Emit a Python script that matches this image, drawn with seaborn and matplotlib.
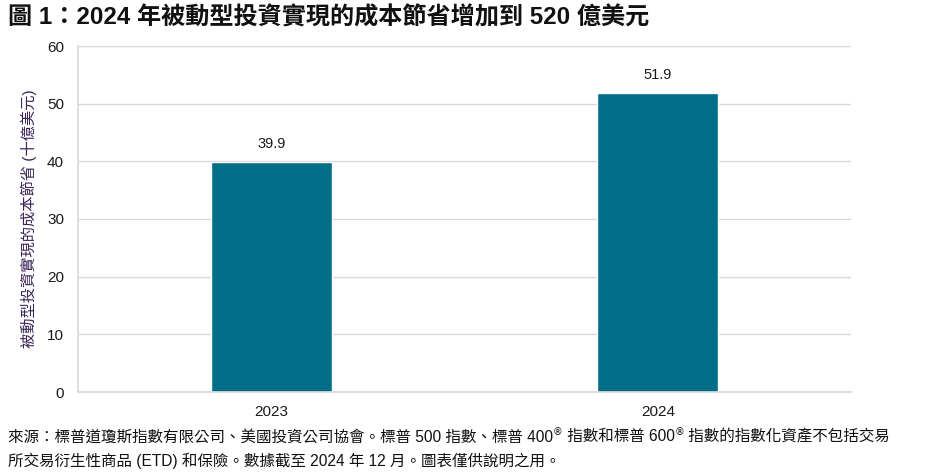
import matplotlib
matplotlib.use("Agg")
import matplotlib.pyplot as plt
import seaborn as sns
import pandas as pd

years = ["2023", "2024"]
savings = [39.9, 51.9]
value_labels = ["39.9", "51.9"]
yticks = [0, 10, 20, 30, 40, 50, 60]

title = "圖 1：2024 年被動型投資實現的成本節省增加到 520 億美元"
ylabel = "被動型投資實現的成本節省 (十億美元)"
foot1_parts = [("來源：標普道瓊斯指數有限公司、美國投資公司協會。標普 500 指數、標普 400", False),
               ("®", True),
               (" 指數和標普 600", False),
               ("®", True),
               (" 指數的指數化資產不包括交易", False)]
foot2 = "所交易衍生性商品 (ETD) 和保險。數據截至 2024 年 12 月。圖表僅供說明之用。"

sns.set_theme(style="white")
plt.rcParams['font.family'] = ['Liberation Sans', 'Noto Sans CJK TC', 'DejaVu Sans']

df = pd.DataFrame({"year": years, "value": savings})

fig = plt.figure(figsize=(9.25, 4.75), dpi=100)
ax = fig.add_axes([78/925, 1 - 392/475, (851-78)/925, (392-46)/475])

sns.barplot(data=df, x="year", y="value", color="#006E87", width=0.313,
            saturation=1, ax=ax)

for i, (v, lab) in enumerate(zip(savings, value_labels)):
    ax.annotate(lab, (i, v), xytext=(0, 8), textcoords="offset points",
                ha="center", va="bottom", fontsize=10.5, color="#1a1a1a")

ax.set_ylim(0, 60)
ax.set_xlim(-0.5, 1.5)
ax.set_yticks(yticks)
ax.yaxis.grid(True, color="#D9D9D9", linewidth=1)
ax.set_axisbelow(True)
for s in ["top", "right"]:
    ax.spines[s].set_visible(False)
ax.spines["left"].set_color("#D9D9D9")
ax.spines["bottom"].set_color("#D9D9D9")
ax.tick_params(axis="both", length=0, labelsize=11, colors="#1a1a1a")
ax.tick_params(axis="y", pad=10)
ax.tick_params(axis="x", pad=9)
ax.set_xlabel("")
ax.set_ylabel(ylabel, fontsize=11, color="#3A2456", labelpad=7)

fig.text(8/925, 1 - 18/475, title, fontsize=17.4, fontweight="bold",
         ha="left", va="center", color="#111111")

# footer line 1 composed of segments (superscript ®)
renderer = fig.canvas.get_renderer()
x_px = 8
y_px = 475 - 437
for txt, sup in foot1_parts:
    if sup:
        t = fig.text(x_px/925, (y_px + 5)/475, txt, fontsize=7, ha="left",
                     va="center", color="#111111", family=['DejaVu Sans'])
    else:
        t = fig.text(x_px/925, y_px/475, txt, fontsize=11.2, ha="left",
                     va="center", color="#111111")
    bb = t.get_window_extent(renderer=renderer)
    x_px += bb.width

fig.text(8/925, 1 - 461/475, foot2, fontsize=11.2, ha="left", va="center", color="#111111")

fig.savefig("out.png", dpi=100)
